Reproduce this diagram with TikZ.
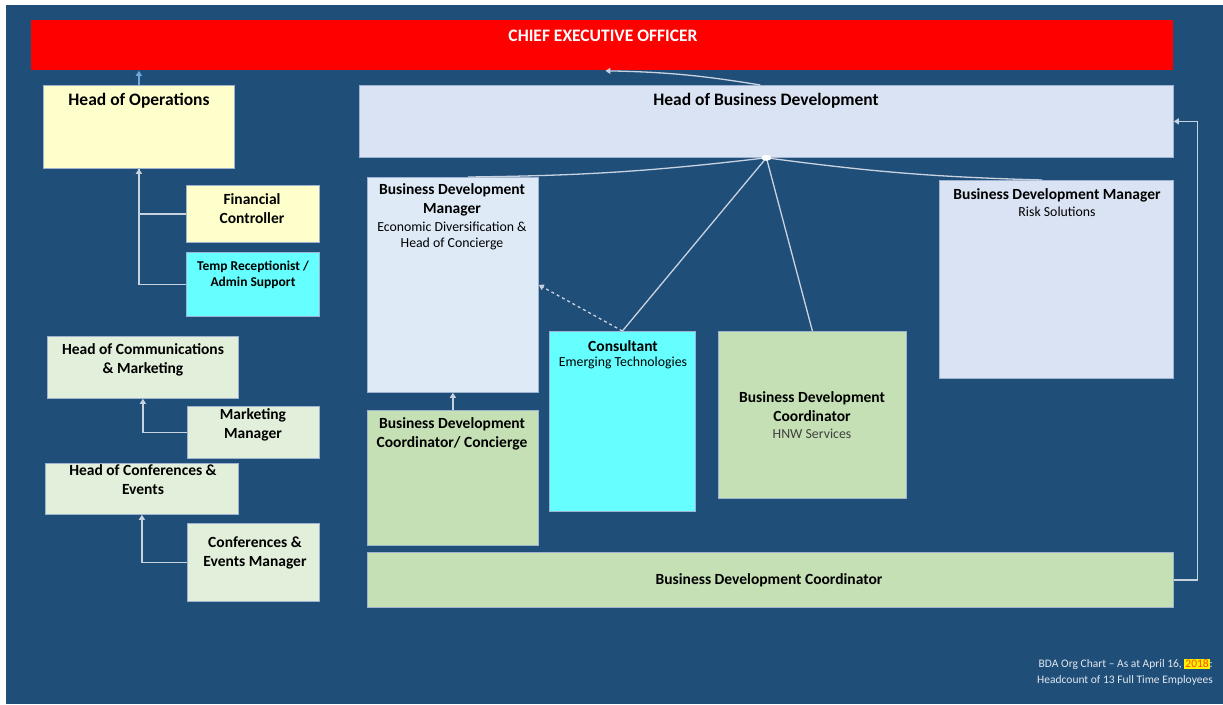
\documentclass[tikz,border=0pt]{standalone}
\usepackage{fontspec}
\setmainfont{Carlito}
\usetikzlibrary{arrows.meta}
\definecolor{bgblue}{HTML}{1F4E79}
\definecolor{ceored}{HTML}{FF0000}
\definecolor{ltyellow}{HTML}{FFFFCC}
\definecolor{ltcyan}{HTML}{66FFFF}
\definecolor{palegreen}{HTML}{E2EFDA}
\definecolor{midgreen}{HTML}{C5E0B4}
\definecolor{lavender}{HTML}{DAE3F3}
\definecolor{iceblue}{HTML}{DEEBF7}
\definecolor{linecol}{HTML}{C9D3E0}
\definecolor{boxedge}{HTML}{9DB3CF}
\definecolor{footcol}{HTML}{E4E8EE}
\definecolor{ceoarrow}{HTML}{6FA8DC}
\newcommand\orgbox[6]{\node[orgbox,#6,minimum width={(#4-#2)*1pt},minimum height={(#5-#3)*1pt},anchor=north west] (#1) at (#2,#3) {};}
\begin{document}
\begin{tikzpicture}[x=1pt,y=-1pt,
  orgbox/.style={draw=boxedge,line width=0.8pt,inner sep=0pt},
  ttl/.style={font=\bfseries\fontsize{15.5}{19}\selectfont,align=center,text=black,inner sep=0pt},
  bigttl/.style={font=\bfseries\fontsize{17.5}{20}\selectfont,align=center,text=black,inner sep=0pt},
  sub/.style={font=\fontsize{13.8}{16.5}\selectfont,align=center,text=black,inner sep=0pt},
  conn/.style={draw=linecol,line width=1.3pt},
  tip/.style={-{Triangle[width=6pt,length=5pt]}},
  foot/.style={font=\fontsize{11.5}{13}\selectfont,text=footcol,anchor=east,inner sep=0pt}]
\useasboundingbox (0,0) rectangle (1223,704);
\fill[white] (0,0) rectangle (1223,704);
\fill[bgblue] (6,5) rectangle (1223,704);
% boxes
\orgbox{ceo}{31}{20}{1173}{70}{fill=ceored,draw=none}
\orgbox{hoo}{43}{85}{234}{168}{fill=ltyellow}
\orgbox{fc}{186}{185}{319}{242}{fill=ltyellow}
\orgbox{temp}{186}{252}{319}{316}{fill=ltcyan}
\orgbox{hcm}{47}{336}{238}{398}{fill=palegreen}
\orgbox{mm}{187}{406}{319}{458}{fill=palegreen}
\orgbox{hce}{45}{463}{238}{514}{fill=palegreen}
\orgbox{cem}{187}{523}{319}{601}{fill=palegreen}
\orgbox{hbd}{359}{85}{1173}{157}{fill=lavender}
\orgbox{bdme}{367}{177}{538}{392}{fill=iceblue}
\orgbox{bdcc}{367}{410}{538}{545}{fill=midgreen}
\orgbox{cons}{549}{331}{695}{511}{fill=ltcyan}
\orgbox{hnw}{718}{331}{906}{498}{fill=midgreen}
\orgbox{bdmr}{939}{180}{1173}{378}{fill=lavender}
\orgbox{bdc}{367}{552}{1173}{607}{fill=midgreen}
% texts
\node[bigttl,text=white] (ceo-t) at (603,36) {CHIEF EXECUTIVE OFFICER};
\node[bigttl] (hoo-t) at (139,101) {Head of Operations};
\node[ttl] (fc-t) at (252,209) {Financial\\Controller};
\node[ttl,font=\bfseries\fontsize{13.5}{16}\selectfont] (temp-t) at (253,275) {Temp Receptionist /\\Admin Support};
\node[ttl] (hcm-t) at (143,360) {Head of Communications\\\& Marketing};
\node[ttl] (mm-t) at (253,425) {Marketing\\Manager};
\node[ttl] (hce-t) at (143,480) {Head of Conferences \&\\Events};
\node[ttl] (cem-t) at (255,553) {Conferences \&\\Events Manager};
\node[bigttl] (hbd-t) at (766,101) {Head of Business Development};
\node[ttl] (bdme-t) at (452,200) {Business Development\\Manager};
\node[sub] (bdme-s) at (452,236) {Economic Diversification \&\\Head of Concierge};
\node[ttl] (bdcc-t) at (452,434) {Business Development\\Coordinator/ Concierge};
\node[ttl] (cons-t) at (623,346) {Consultant};
\node[sub] (cons-s) at (623,363) {Emerging Technologies};
\node[ttl] (hnw-t) at (812,407) {Business Development\\Coordinator};
\node[sub,text=black!75] (hnw-s) at (812,434) {HNW Services};
\node[ttl] (bdmr-t) at (1057,195) {Business Development Manager};
\node[sub] (bdmr-s) at (1057,212) {Risk Solutions};
\node[ttl] (bdc-t) at (769,580) {Business Development Coordinator};
\node[foot] (foot1) at (1213,664) {BDA Org Chart -- As at April 16, {\setlength\fboxsep{1pt}\colorbox{yellow}{\textcolor{orange!60!red}{2018}}}:};
\node[foot] (foot2) at (1213,680) {Headcount of 13 Full Time Employees};
% connectors
\draw[conn,draw=ceoarrow,tip] (hoo.north) -- (hoo.north |- ceo.south);
\draw[conn,tip] (fc.west) -| (hoo.south);
\draw[conn] (temp.west) -| (hoo.south);
\draw[conn,tip] (mm.west) -| (hcm.south);
\draw[conn,tip] (cem.west) -| (hce.south);
\draw[conn,tip] ([xshift=-6pt]hbd.north) to[bend right=4] ([xshift=3pt]ceo.south);
\draw[conn] (hbd.south) to[bend left=3] ([xshift=15pt]bdme.north);
\draw[conn] (hbd.south) to[bend right=3] ([xshift=-14pt]bdmr.north);
\draw[conn] (hbd.south) -- (cons.north);
\draw[conn] (hbd.south) -- (hnw.north);
\fill[white] (hbd.south) ellipse (5pt and 3pt);
\draw[conn,dashed,tip] (cons.north) -- (bdme.east);
\draw[conn,tip] (bdcc.north) -- (bdme.south);
\draw[conn,tip] (bdc.east) -- ++(24,0) |- (hbd.east);
\end{tikzpicture}
\end{document}
